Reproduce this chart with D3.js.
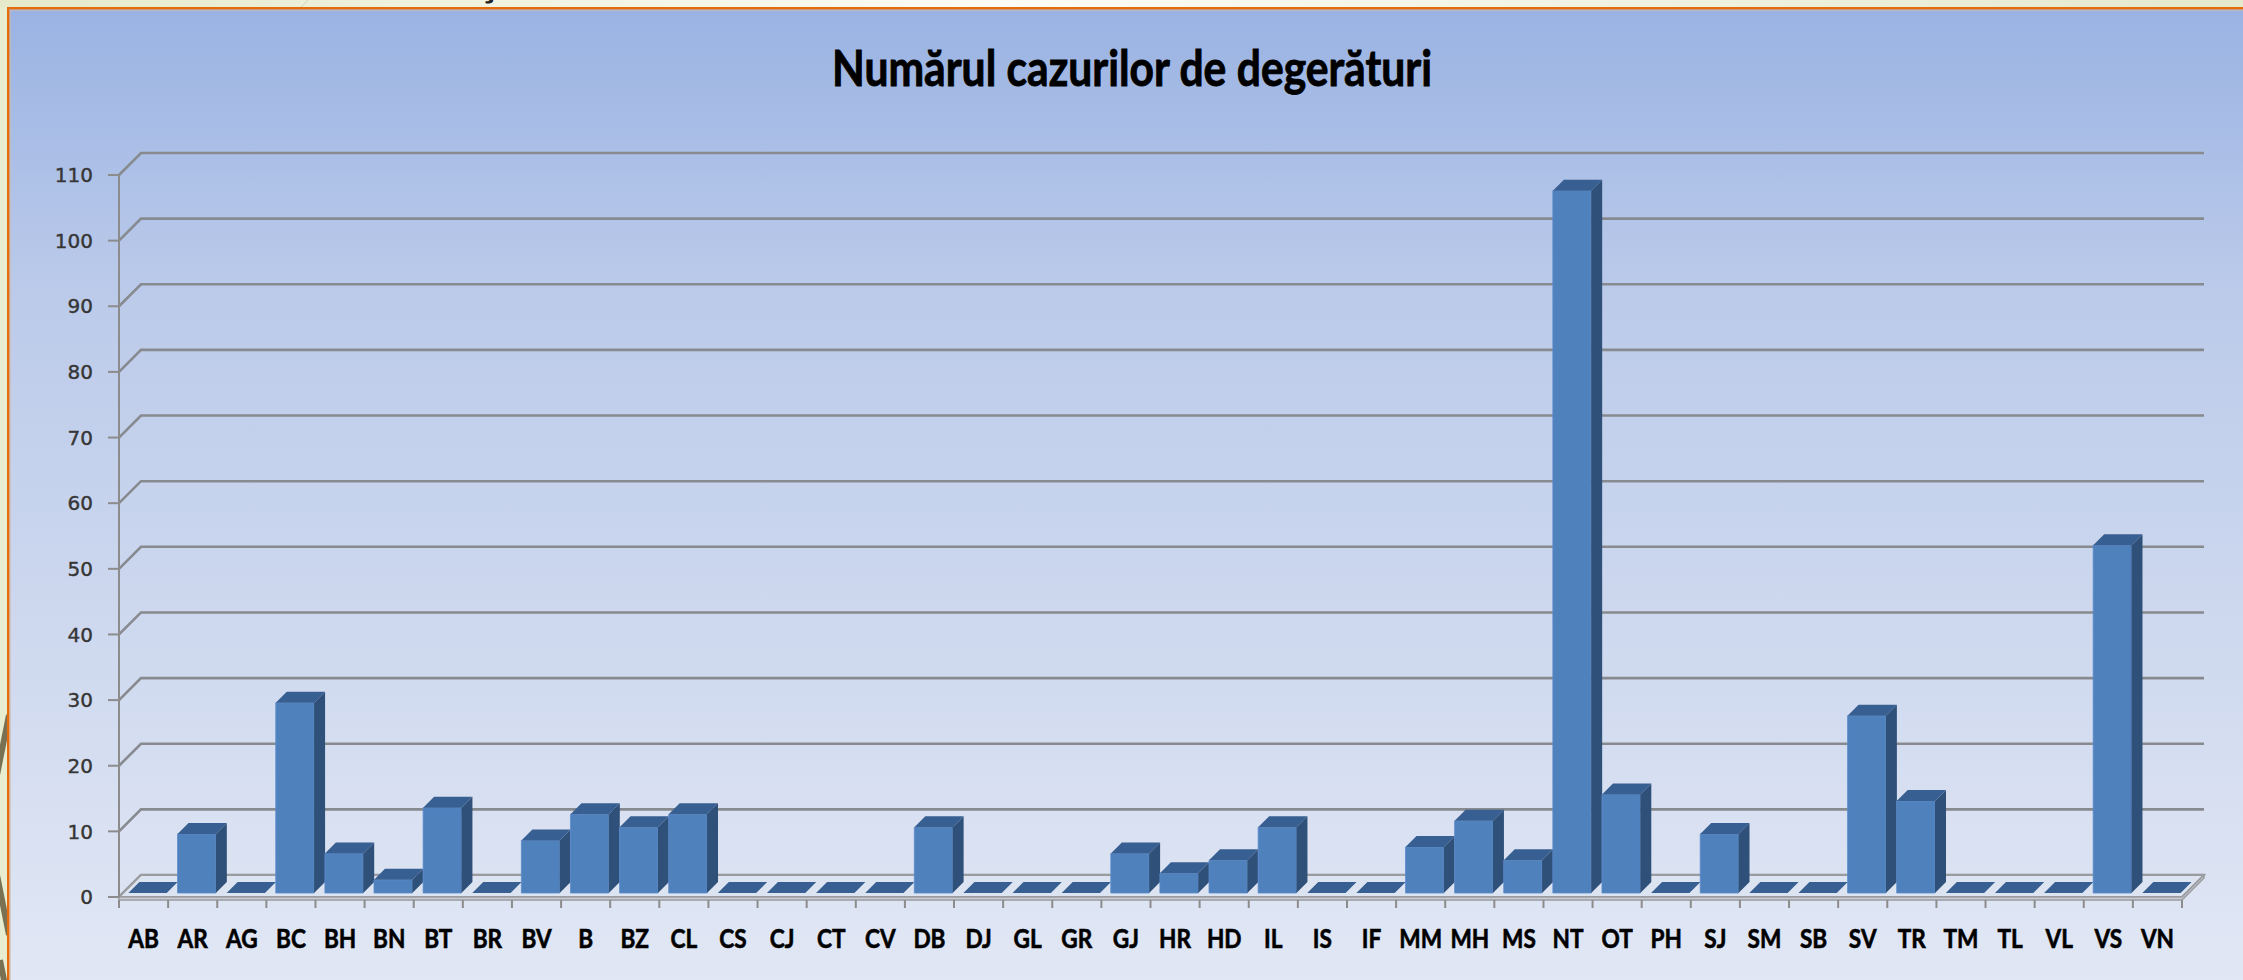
<!DOCTYPE html>
<html>
<head>
<meta charset="utf-8">
<script src="https://cdn.jsdelivr.net/npm/d3@7"></script>
<style>
    html, body { margin: 0; padding: 0; overflow: hidden; background: #e8ecd0; }
</style>
</head>
<body>
<script>
    'use strict';

    // county codes and number of frostbite cases
    var categories = ['AB', 'AR', 'AG', 'BC', 'BH', 'BN', 'BT', 'BR', 'BV', 'B', 'BZ', 'CL',
        'CS', 'CJ', 'CT', 'CV', 'DB', 'DJ', 'GL', 'GR', 'GJ', 'HR', 'HD', 'IL', 'IS', 'IF',
        'MM', 'MH', 'MS', 'NT', 'OT', 'PH', 'SJ', 'SM', 'SB', 'SV', 'TR', 'TM', 'TL', 'VL',
        'VS', 'VN'];
    var values = [0, 9, 0, 29, 6, 2, 13, 0, 8, 12, 10, 12,
        0, 0, 0, 0, 10, 0, 0, 0, 6, 3, 5, 10, 0, 0,
        7, 11, 5, 107, 15, 0, 9, 0, 0, 27, 14, 0, 0, 0,
        53, 0];
    var yTicks = d3.range(0, 111, 10);
    var chartTitle = 'Numărul cazurilor de degerături';

    var width = 2243;
    var height = 980;
    var depth = 22;          // oblique depth of the plot box
    var barDepth = [4, 15];  // front / back of the columns inside the box

    var svg = d3.select('body')
        .append('svg')
        .attr('width', width)
        .attr('height', height)
        ;

    var defs = svg.append('defs');
    var bg = defs.append('linearGradient')
        .attr('id', 'bg')
        .attr('x1', 0).attr('y1', 0).attr('x2', 0).attr('y2', 1)
        ;
    bg.append('stop').attr('offset', '0%').attr('stop-color', '#9ab3e3');
    bg.append('stop').attr('offset', '30%').attr('stop-color', '#bccbea');
    bg.append('stop').attr('offset', '100%').attr('stop-color', '#e1e7f4');

    var strip = defs.append('linearGradient')
        .attr('id', 'strip')
        .attr('x1', 0).attr('y1', 0).attr('x2', 1).attr('y2', 0)
        ;
    strip.append('stop').attr('offset', '0%').attr('stop-color', '#e6eacb');
    strip.append('stop').attr('offset', '45%').attr('stop-color', '#fbfcf5');
    strip.append('stop').attr('offset', '100%').attr('stop-color', '#e4e9cd');

    // slide background around the chart
    svg.append('rect')
        .attr('width', width).attr('height', 8)
        .attr('fill', 'url(#strip)')
        ;
    var deco = svg.append('g').attr('stroke', '#7a7152').attr('stroke-width', 6).attr('fill', 'none');
    deco.append('line').attr('x1', 9).attr('y1', 715).attr('x2', -6).attr('y2', 790);
    deco.append('line').attr('x1', -6).attr('y1', 860).attr('x2', 9).attr('y2', 935);
    deco.append('line').attr('x1', 0).attr('y1', 960).attr('x2', 6).attr('y2', 990);
    svg.append('line')
        .attr('x1', 300).attr('y1', 8).attr('x2', 308).attr('y2', 0)
        .attr('stroke', '#cfd3bb').attr('stroke-width', 1)
        ;
    // tail of a slide heading cropped by the top edge
    svg.append('text')
        .attr('x', 487).attr('y', -4)
        .attr('text-anchor', 'middle')
        .attr('font-family', 'Lato').attr('font-weight', 700).attr('font-size', 40)
        .attr('fill', '#222')
        .text('ţ')
        ;

    // chart area
    svg.append('rect')
        .attr('x', 9).attr('y', 9)
        .attr('width', width - 9).attr('height', height - 9)
        .attr('fill', 'url(#bg)')
        ;
    svg.append('rect').attr('x', 7).attr('y', 7).attr('width', width - 7).attr('height', 2.5).attr('fill', '#e46c0a');
    svg.append('rect').attr('x', 7).attr('y', 7).attr('width', 2.5).attr('height', height - 7).attr('fill', '#e46c0a');
    svg.append('rect').attr('x', 9.5).attr('y', 9.5).attr('width', width).attr('height', 1.5).attr('fill', '#d7b7a3').attr('opacity', 0.6);
    svg.append('rect').attr('x', 9.5).attr('y', 9.5).attr('width', 1.5).attr('height', height).attr('fill', '#d7b7a3').attr('opacity', 0.6);

    svg.append('text')
        .attr('x', 1132).attr('y', 86)
        .attr('text-anchor', 'middle')
        .attr('font-family', 'Lato').attr('font-weight', 700).attr('font-size', 50)
        .attr('textLength', 600).attr('lengthAdjust', 'spacingAndGlyphs')
        .attr('fill', '#000')
        .attr('stroke', '#000').attr('stroke-width', 0.9)
        .text(chartTitle)
        ;

    var x = d3.scaleBand()
        .domain(categories)
        .range([119, 2182])
        .paddingInner(0.22)
        .paddingOuter(0.11)
        ;
    var y = d3.scaleLinear()
        .domain([0, 110])
        .range([897, 175])
        ;
    var step = x.step();
    var x0 = x.range()[0];
    var x1 = x.range()[1];

    var proj = function (px, v, d) { return [px + d, y(v) - d]; };
    var pts = function (list) { return list.map(function (p) { return p.join(','); }).join(' '); };

    // walls: diagonal on the side wall, horizontal on the back wall
    var grid = svg.append('g')
        .attr('fill', 'none')
        .attr('stroke', '#878a8f')
        .attr('stroke-width', 2.6)
        ;
    grid.selectAll('polyline')
        .data(yTicks)
        .enter()
        .append('polyline')
        .attr('points', function (t) {
            return pts([proj(x0, t, 0), proj(x0, t, depth), proj(x1, t, depth)]);
        })
        ;

    // floor slab
    var floor = svg.append('g').attr('stroke', '#9a9ca0').attr('stroke-width', 2);
    floor.append('polygon')
        .attr('points', pts([proj(x0, 0, 0), proj(x1, 0, 0), proj(x1, 0, depth), proj(x0, 0, depth)]))
        .attr('fill', '#dde4f1')
        ;
    floor.append('polygon')
        .attr('points', pts([[x0, y(0)], [x1, y(0)], [x1 + depth, y(0) - depth], [x1 + depth, y(0) - depth + 3], [x1, y(0) + 3], [x0, y(0) + 3]]))
        .attr('fill', '#c9ced8')
        .attr('stroke-width', 1.5)
        ;

    // y axis
    var axis = svg.append('g').attr('stroke', '#8c8c8c').attr('stroke-width', 2);
    axis.append('line')
        .attr('x1', x0).attr('x2', x0)
        .attr('y1', y(0)).attr('y2', y(110))
        ;
    axis.selectAll('line.tick')
        .data(yTicks)
        .enter()
        .append('line')
        .attr('class', 'tick')
        .attr('x1', x0 - 11).attr('x2', x0)
        .attr('y1', y).attr('y2', y)
        ;
    svg.append('g').selectAll('text')
        .data(yTicks)
        .enter()
        .append('text')
        .attr('x', 93)
        .attr('y', y)
        .attr('dy', '0.36em')
        .attr('text-anchor', 'end')
        .attr('font-family', 'DejaVu Sans')
        .attr('font-size', 20)
        .attr('fill', '#363636')
        .attr('stroke', '#363636').attr('stroke-width', 0.4)
        .text(String)
        ;

    // x axis ticks and labels
    var xTicks = d3.range(categories.length + 1).map(function (i) { return x0 + i * step; });
    axis.selectAll('line.xtick')
        .data(xTicks)
        .enter()
        .append('line')
        .attr('class', 'xtick')
        .attr('x1', Number).attr('x2', Number)
        .attr('y1', y(0) + 3).attr('y2', y(0) + 11)
        ;
    svg.append('g').selectAll('text')
        .data(categories)
        .enter()
        .append('text')
        .attr('transform', function (c) {
            var cx = x(c) + x.bandwidth() / 2;
            return 'translate(' + cx + ',948) scale(0.87,1)';
        })
        .attr('text-anchor', 'middle')
        .attr('font-family', 'Lato')
        .attr('font-weight', 700)
        .attr('font-size', 26)
        .attr('fill', '#000')
        .attr('stroke', '#000').attr('stroke-width', 0.6)
        .text(String)
        ;

    // columns
    var data = categories.map(function (c, i) { return { cat: c, val: values[i] }; });
    var cols = svg.append('g').selectAll('g')
        .data(data)
        .enter()
        .append('g')
        ;
    var d0 = barDepth[0];
    var d1 = barDepth[1];

    cols.filter(function (d) { return d.val > 0; })
        .append('polygon')
        .attr('points', function (d) {
            var l = x(d.cat), r = l + x.bandwidth();
            return pts([proj(l, 0, d0), proj(r, 0, d0), proj(r, d.val, d0), proj(l, d.val, d0)]);
        })
        .attr('fill', '#4f81bd')
        .attr('stroke', '#5c8ccb')
        .attr('stroke-width', 0.8)
        ;
    cols.filter(function (d) { return d.val > 0; })
        .append('polygon')
        .attr('points', function (d) {
            var r = x(d.cat) + x.bandwidth();
            return pts([proj(r, 0, d0), proj(r, 0, d1), proj(r, d.val, d1), proj(r, d.val, d0)]);
        })
        .attr('fill', '#2f5079')
        ;
    cols.append('polygon')
        .attr('points', function (d) {
            var l = x(d.cat), r = l + x.bandwidth();
            return pts([proj(l, d.val, d0), proj(r, d.val, d0), proj(r, d.val, d1), proj(l, d.val, d1)]);
        })
        .attr('fill', '#385f91')
        ;
</script>
</body>
</html>
